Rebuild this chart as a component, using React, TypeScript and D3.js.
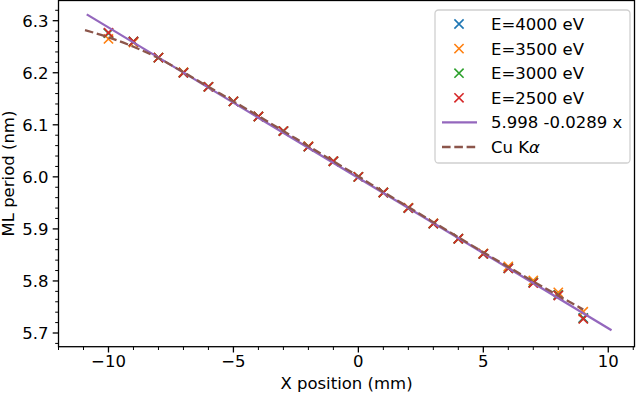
import React, { useEffect, useRef } from 'react';
import * as d3 from 'd3';

// positions along the mirror (mm)
const xPositions = [-10, -9, -8, -7, -6, -5, -4, -3, -2, -1, 0, 1, 2, 3, 4, 5, 6, 7, 8, 9];

// measured ML period (nm) per energy
const e4000 = [6.276, 6.260, 6.229, 6.200, 6.173, 6.145, 6.116, 6.088, 6.058, 6.030, 6.000, 5.970, 5.940, 5.910, 5.881, 5.852, 5.825, 5.797, 5.773, 5.729];
const e3500 = [6.265, 6.258, 6.229, 6.201, 6.173, 6.145, 6.116, 6.088, 6.059, 6.030, 6.000, 5.970, 5.941, 5.911, 5.881, 5.853, 5.828, 5.801, 5.778, 5.741];
const e3000 = [6.276, 6.260, 6.229, 6.200, 6.173, 6.145, 6.116, 6.088, 6.058, 6.030, 6.000, 5.970, 5.940, 5.910, 5.881, 5.852, 5.824, 5.797, 5.773, 5.728];
const e2500 = [6.277, 6.260, 6.229, 6.200, 6.173, 6.145, 6.116, 6.088, 6.058, 6.030, 6.000, 5.970, 5.940, 5.910, 5.881, 5.852, 5.824, 5.796, 5.772, 5.727];

// linear fit 5.998 - 0.0289 x
const fitIntercept = 5.998;
const fitSlope = -0.0289;
const fitRange = [-10.87, 10.13];

// Cu K-alpha reference curve
const cuX = [-10.94, -10, -9, -8, -7, -6, -5, -4, -3, -2, -1, 0, 1, 2, 3, 4, 5, 6, 7, 8, 9];
const cuY = [6.282, 6.268, 6.250, 6.228, 6.201, 6.173, 6.145, 6.117, 6.088, 6.059, 6.030, 6.001, 5.971, 5.942, 5.913, 5.884, 5.855, 5.827, 5.799, 5.772, 5.745];

const xTicks = [-10, -5, 0, 5, 10];
const yTicks = [5.7, 5.8, 5.9, 6.0, 6.1, 6.2, 6.3];

const series = [
    { label: 'E=4000 eV', color: '#1f77b4', values: e4000 },
    { label: 'E=3500 eV', color: '#ff7f0e', values: e3500 },
    { label: 'E=3000 eV', color: '#2ca02c', values: e3000 },
    { label: 'E=2500 eV', color: '#d62728', values: e2500 },
];

const FONT = 'DejaVu Sans, sans-serif';

function App() {
    const ref = useRef<SVGSVGElement>(null);

    const width = 640;
    const height = 395;
    const left = 58.5;
    const right = 634.5;
    const top = 0.5;
    const bottom = 346.7;

    useEffect(() => {
        const svg = d3.select(ref.current);
        svg.selectAll('*').remove();

        const x = d3.scaleLinear().domain([-12, 11.05]).range([left, right]);
        const y = d3.scaleLinear().domain([5.7, 6.3]).range([333, 20.7]);

        svg.append('rect')
            .attr('width', width).attr('height', height).attr('fill', '#fff');

        // minor ticks
        const xMinor = d3.range(-12, 12).filter(v => v % 5 !== 0 && x(v) >= left && x(v) <= right);
        svg.append('g').selectAll('line').data(xMinor).join('line')
            .attr('x1', d => x(d)).attr('x2', d => x(d))
            .attr('y1', bottom).attr('y2', bottom + 3.3)
            .attr('stroke', '#000').attr('stroke-width', 1);
        const yMinor = d3.range(5.68, 6.35, 0.02).map(v => +v.toFixed(2))
            .filter(v => Math.round(v * 100) % 10 !== 0 && y(v) >= top && y(v) <= bottom);
        svg.append('g').selectAll('line').data(yMinor).join('line')
            .attr('x1', left - 3.3).attr('x2', left)
            .attr('y1', d => y(d)).attr('y2', d => y(d))
            .attr('stroke', '#000').attr('stroke-width', 1);

        // major ticks + labels
        const gx = svg.append('g');
        gx.selectAll('line').data(xTicks).join('line')
            .attr('x1', d => x(d)).attr('x2', d => x(d))
            .attr('y1', bottom).attr('y2', bottom + 5.8)
            .attr('stroke', '#000').attr('stroke-width', 1.3);
        gx.selectAll('text').data(xTicks).join('text')
            .attr('x', d => x(d)).attr('y', 367)
            .attr('text-anchor', 'middle')
            .attr('font-family', FONT).attr('font-size', 16.5)
            .text(d => d < 0 ? '\u2212' + Math.abs(d) : String(d));

        const gy = svg.append('g');
        gy.selectAll('line').data(yTicks).join('line')
            .attr('x1', left - 5.8).attr('x2', left)
            .attr('y1', d => y(d)).attr('y2', d => y(d))
            .attr('stroke', '#000').attr('stroke-width', 1.3);
        gy.selectAll('text').data(yTicks).join('text')
            .attr('x', 48.5).attr('y', d => y(d))
            .attr('dy', '0.36em')
            .attr('text-anchor', 'end')
            .attr('font-family', FONT).attr('font-size', 16.5)
            .text(d => d.toFixed(1));

        // axis labels
        svg.append('text')
            .attr('x', (left + right) / 2).attr('y', 389)
            .attr('text-anchor', 'middle')
            .attr('font-family', FONT).attr('font-size', 16.5)
            .text('X position (mm)');
        svg.append('text')
            .attr('transform', `translate(14,${(top + bottom) / 2}) rotate(-90)`)
            .attr('text-anchor', 'middle')
            .attr('font-family', FONT).attr('font-size', 16.5)
            .text('ML period (nm)');

        const plot = svg.append('g');

        // data markers
        const cross = (g, color) => {
            g.append('path')
                .attr('d', 'M-4.6,-4.6L4.6,4.6M-4.6,4.6L4.6,-4.6')
                .attr('stroke', color).attr('stroke-width', 1.6).attr('fill', 'none');
        };
        series.forEach(s => {
            const g = plot.append('g');
            xPositions.forEach((xv, i) => {
                const m = g.append('g').attr('transform', `translate(${x(xv)},${y(s.values[i])})`);
                cross(m, s.color);
            });
        });

        // fit line
        const line = d3.line<number>()
            .x(d => x(d))
            .y(d => y(fitIntercept + fitSlope * d));
        plot.append('path')
            .attr('d', line(fitRange))
            .attr('stroke', '#9467bd').attr('stroke-width', 2.3).attr('fill', 'none');

        // Cu K-alpha dashed
        const cuLine = d3.line<number>()
            .x(d => x(d))
            .y((d, i) => y(cuY[i]))
            .curve(d3.curveMonotoneX);
        plot.append('path')
            .attr('d', cuLine(cuX))
            .attr('stroke', '#8c564b').attr('stroke-width', 2.3)
            .attr('stroke-dasharray', '8.6,3.7')
            .attr('fill', 'none');

        // frame
        svg.append('rect')
            .attr('x', left).attr('y', top)
            .attr('width', right - left).attr('height', bottom - top)
            .attr('fill', 'none').attr('stroke', '#000').attr('stroke-width', 1.3);

        // legend
        const legend = svg.append('g');
        legend.append('rect')
            .attr('x', 435).attr('y', 10)
            .attr('width', 195).attr('height', 153)
            .attr('rx', 3.5)
            .attr('fill', '#fff').attr('fill-opacity', 0.8)
            .attr('stroke', '#d0d0d0').attr('stroke-width', 1.3);
        const rowY = (i: number) => 24 + i * 24.6;
        series.forEach((s, i) => {
            const m = legend.append('g').attr('transform', `translate(459,${rowY(i)})`);
            cross(m, s.color);
        });
        legend.append('line')
            .attr('x1', 442).attr('x2', 477)
            .attr('y1', rowY(4)).attr('y2', rowY(4))
            .attr('stroke', '#9467bd').attr('stroke-width', 2.3);
        legend.append('line')
            .attr('x1', 442).attr('x2', 477)
            .attr('y1', rowY(5)).attr('y2', rowY(5))
            .attr('stroke', '#8c564b').attr('stroke-width', 2.3)
            .attr('stroke-dasharray', '8.6,3.7');
        const labels = [...series.map(s => s.label), '5.998 -0.0289 x'];
        legend.selectAll('text.lbl').data(labels).join('text')
            .attr('class', 'lbl')
            .attr('x', 491).attr('y', (d, i) => rowY(i))
            .attr('dy', '0.36em')
            .attr('font-family', FONT).attr('font-size', 16.5)
            .text(d => d);
        const cu = legend.append('text')
            .attr('x', 491).attr('y', rowY(5))
            .attr('dy', '0.36em')
            .attr('font-family', FONT).attr('font-size', 16.5);
        cu.append('tspan').text('Cu K');
        cu.append('tspan').attr('font-style', 'italic').text('\u03b1');
    }, []);

    return (
        <svg ref={ref} width={width} height={height}
            style={{ position: 'absolute', left: 0, top: 0 }} />
    );
}

export default App;
